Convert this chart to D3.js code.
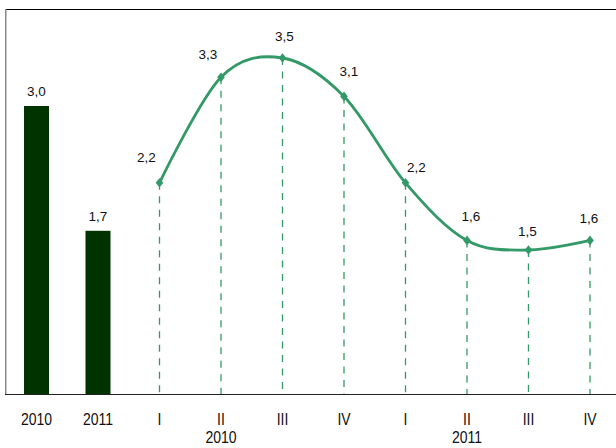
<!DOCTYPE html>
<html><head><meta charset="utf-8">
<script src="https://cdn.jsdelivr.net/npm/d3@7"></script>
<style>body{margin:0;background:#fff}svg{display:block;font-family:"Liberation Sans",Arial,sans-serif}</style>
</head><body>
<svg id="chart" width="616" height="448"></svg>
<script>
// Data
const barCategories = ["2010", "2011"];
const barValues = [3.0, 1.7];
const quarterLabels = ["I", "II", "III", "IV", "I", "II", "III", "IV"];
const quarterYears = ["2010", "2010", "2010", "2010", "2011", "2011", "2011", "2011"];
const quarterValues = [2.2, 3.3, 3.5, 3.1, 2.2, 1.6, 1.5, 1.6];
const yearGroupLabels = ["2010", "2011"];

// layout nudges for value labels (style, not data)
const qLabelDx = [-13, -13, 2, 5, 11, 4, -1, -1];
const qLabelDy = [-21, -18, -17, -20.5, -11, -19, -14, -17.5];

(function () {
const svg = d3.select("#chart");
const W = 616;
const mLeft = 5, mTop = 9, base = 394;

const keys = barCategories.map((d, i) => "b" + i).concat(quarterLabels.map((d, i) => "q" + i));
const x = d3.scaleBand().domain(keys).range([36.5 - 61.5 / 2, 36.5 + 61.5 * 9.5]).padding(0);
const y = d3.scaleLinear().domain([0, 3.0]).range([base, base - 288]);

const green = "#339966";
const dark = "#003300";
const fmt = d => d.toFixed(1).replace(".", ",");

// frame
svg.append("line").attr("x1", mLeft).attr("x2", W).attr("y1", mTop + 0.5).attr("y2", mTop + 0.5)
  .attr("stroke", "#000").attr("stroke-width", 1.2);
svg.append("line").attr("x1", mLeft + 0.75).attr("x2", mLeft + 0.75).attr("y1", mTop).attr("y2", base)
  .attr("stroke", "#888").attr("stroke-width", 1.5);

// bars
const bw = 25;
svg.selectAll("rect.bar").data(barValues).enter().append("rect")
  .attr("x", (d, i) => x("b" + i) + x.bandwidth() / 2 - bw / 2)
  .attr("width", bw)
  .attr("y", d => y(d))
  .attr("height", d => base - y(d))
  .attr("fill", dark);
svg.selectAll("text.blabel").data(barValues).enter().append("text")
  .attr("x", (d, i) => x("b" + i) + x.bandwidth() / 2)
  .attr("y", d => y(d) - 9.8)
  .attr("text-anchor", "middle").attr("font-size", 13.5).attr("fill", "#111")
  .text(fmt);

// quarter points
const pts = quarterValues.map((v, i) => [x("q" + i) + x.bandwidth() / 2, y(v)]);

// dashed drop lines
svg.selectAll("line.drop").data(pts).enter().append("line")
  .attr("x1", d => d[0]).attr("x2", d => d[0])
  .attr("y1", d => d[1]).attr("y2", base)
  .attr("stroke", green).attr("stroke-width", 1.3).attr("stroke-dasharray", "7,6.5");

// smooth line
const line = d3.line().curve(d3.curveCardinal.tension(0));
svg.append("path").attr("d", line(pts)).attr("fill", "none")
  .attr("stroke", green).attr("stroke-width", 2.8);

// markers (diamonds)
const hw = 3.8, hh = 4.8;
svg.selectAll("path.mk").data(pts).enter().append("path")
  .attr("d", `M0,${-hh}L${hw},0L0,${hh}L${-hw},0Z`)
  .attr("transform", d => `translate(${d[0]},${d[1]})`)
  .attr("fill", green);

// value labels
svg.selectAll("text.qlabel").data(quarterValues).enter().append("text")
  .attr("x", (d, i) => pts[i][0] + qLabelDx[i])
  .attr("y", (d, i) => pts[i][1] + qLabelDy[i])
  .attr("text-anchor", "middle").attr("font-size", 13.5).attr("fill", "#111")
  .text(fmt);

// baseline axis
svg.append("line").attr("x1", mLeft).attr("x2", W).attr("y1", base + 0.5).attr("y2", base + 0.5)
  .attr("stroke", "#222").attr("stroke-width", 1.2);

// category labels via axis
const axisLabels = barCategories.concat(quarterLabels);
const ax = svg.append("g").attr("transform", `translate(0,${base})`)
  .call(d3.axisBottom(x).tickSize(0).tickPadding(0).tickFormat((d, i) => axisLabels[i]));
ax.select(".domain").remove();
ax.selectAll("text").attr("font-size", 14).attr("fill", "#111").attr("dy", null).attr("y", 0)
  .attr("font-family", "Liberation Sans, Arial, sans-serif")
  .attr("transform", "translate(0,31) scale(1,1.2)");

// year group labels (centered under the second quarter of each year)
yearGroupLabels.forEach(yr => {
  const idx = quarterYears.indexOf(yr) + 1;
  svg.append("text")
    .attr("transform", `translate(${x("q" + idx) + x.bandwidth() / 2},${base + 49}) scale(1,1.2)`)
    .attr("text-anchor", "middle").attr("font-size", 14).attr("fill", "#111").text(yr);
});
})();
</script>
</body></html>
